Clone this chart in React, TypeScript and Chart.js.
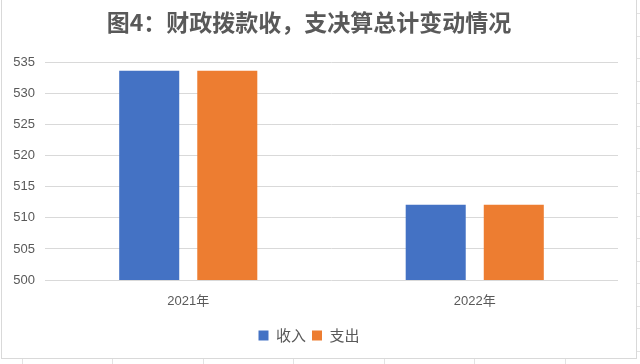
import React, { useEffect, useRef } from "react";
import { Chart, registerables } from "chart.js";

Chart.register(...registerables);

const categories = ["2021年", "2022年"];
const incomeValues = [533.7, 512.1];
const expenseValues = [533.7, 512.1];
const seriesNames = ["收入", "支出"];
const titleText = "图4：财政拨款收，支决算总计变动情况";

const cjk = '"Noto Sans CJK SC", "Microsoft YaHei", sans-serif';
const num = '"Liberation Sans", "Noto Sans CJK SC", sans-serif';

const framePlugin = {
  id: "frameBorder",
  beforeDraw(chart: any) {
    const { ctx, width, height } = chart;
    ctx.save();
    ctx.fillStyle = "#ffffff";
    ctx.fillRect(0, 0, width, height);
    // spreadsheet cell lines peeking out around the chart
    ctx.strokeStyle = "#e3e3e3";
    ctx.lineWidth = 1;
    ctx.beginPath();
    for (let x = 21.5; x < width; x += 90.5) {
      const px = Math.round(x) + 0.5;
      ctx.moveTo(px, 359);
      ctx.lineTo(px, height);
    }
    for (let y = 13; y < 360; y += 22.5) {
      const py = Math.round(y) + 0.5;
      ctx.moveTo(637, py);
      ctx.lineTo(width, py);
    }
    ctx.stroke();
    ctx.restore();
  },
  afterDraw(chart: any) {
    const { ctx } = chart;
    ctx.save();
    ctx.strokeStyle = "#d9d9d9";
    ctx.lineWidth = 1;
    ctx.strokeRect(1.5, -1.5, 635, 360);
    ctx.restore();
  },
};

export default function App() {
  const ref = useRef<HTMLCanvasElement | null>(null);
  useEffect(() => {
    document.body.style.margin = "0";
    const canvas = ref.current;
    if (!canvas) return;
    const chart = new Chart(canvas, {
      type: "bar",
      data: {
        labels: categories,
        datasets: [
          {
            label: seriesNames[0],
            data: incomeValues,
            backgroundColor: "#4472C4",
            categoryPercentage: 0.545,
            barPercentage: 0.769,
          },
          {
            label: seriesNames[1],
            data: expenseValues,
            backgroundColor: "#ED7D31",
            categoryPercentage: 0.545,
            barPercentage: 0.769,
          },
        ],
      },
      options: {
        animation: false,
        responsive: false,
        maintainAspectRatio: false,
        layout: { padding: { left: 0, right: 22, top: 0, bottom: 11 } },
        plugins: {
          title: {
            display: true,
            text: titleText,
            color: "#595959",
            font: { family: cjk, size: 23, weight: "bold" },
            padding: { top: 8, bottom: 27 },
          },
          legend: {
            position: "bottom",
            labels: {
              color: "#595959",
              font: { family: cjk, size: 15 },
              boxWidth: 10,
              boxHeight: 10,
              padding: 6,
            },
          },
          tooltip: { enabled: false },
        },
        scales: {
          x: {
            grid: { display: false, drawTicks: false },
            border: { display: false },
            ticks: {
              color: "#595959",
              font: { family: num, size: 13 },
              padding: 14,
            },
            afterFit(scale: any) {
              scale.height = 42;
            },
          },
          y: {
            min: 500,
            max: 535,
            ticks: {
              stepSize: 5,
              color: "#595959",
              font: { family: num, size: 13 },
              padding: 10,
            },
            grid: { color: "#d9d9d9", drawTicks: false },
            border: { display: false },
            afterFit(scale: any) {
              scale.width = 45;
            },
          },
        },
      },
      plugins: [framePlugin],
    });
    return () => chart.destroy();
  }, []);
  return (
    <div style={{ width: 640, height: 364 }}>
      <canvas ref={ref} width={640} height={364} style={{ display: "block" }} />
    </div>
  );
}
